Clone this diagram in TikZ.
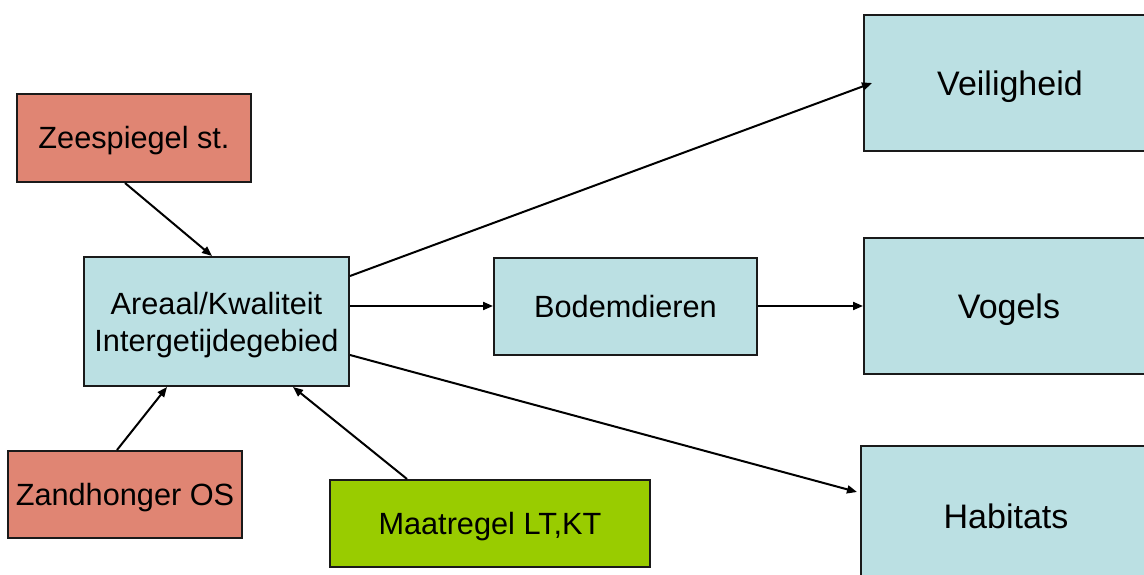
\documentclass[tikz,border=0pt]{standalone}
\usepackage{fontspec}
\setmainfont{Liberation Sans}
\usetikzlibrary{arrows.meta}
\definecolor{salmon}{HTML}{E08573}
\definecolor{lblue}{HTML}{BBE0E3}
\definecolor{lgreen}{HTML}{99CC00}
\definecolor{edge}{HTML}{1A1A1A}
\tikzset{
  box/.style={draw=edge, line width=2pt, inner sep=0pt, align=center,
    font=\fontsize{30.7}{37}\selectfont, text height=28.4pt, text depth=6.4pt},
  bigbox/.style={box, font=\fontsize{34}{40}\selectfont, text height=31.3pt, text depth=7.1pt},
  conn/.style={line width=2pt, draw=black, -{Triangle[length=10pt,width=8pt]}}
}
\begin{document}
\begin{tikzpicture}[x=1pt,y=-1pt]
\useasboundingbox (0,0) rectangle (1144,575);
\clip (0,0) rectangle (1144,575);
\node[box, fill=salmon, minimum width=234pt, minimum height=88pt] (zee) at (134,138) {Zeespiegel st.};
\node[box, fill=lblue, minimum width=265pt, minimum height=129pt, text height=65.4pt] (are) at (216.5,321.5) {Areaal/Kwaliteit\\Intergetijdegebied};
\node[box, fill=salmon, minimum width=234pt, minimum height=87pt] (zand) at (125,494.5) {Zandhonger OS};
\node[box, fill=lgreen, minimum width=320pt, minimum height=87pt] (maat) at (490,523.5) {Maatregel LT,KT};
\node[box, fill=lblue, minimum width=263pt, minimum height=97pt] (bod) at (625.5,306) {Bodemdieren};
\node[bigbox, fill=lblue, minimum width=292pt, minimum height=136pt] (veil) at (1010,83) {Veiligheid};
\node[bigbox, fill=lblue, minimum width=290pt, minimum height=136pt] (vog) at (1009,306) {Vogels};
\node[bigbox, fill=lblue, minimum width=290pt, minimum height=140pt] (hab) at (1006,516) {Habitats};

\draw[conn] ([xshift=-9pt]zee.south) -- ([xshift=-4.5pt]are.north);
\draw[conn] ([xshift=-8pt]zand.north) -- ([xshift=-49.5pt]are.south);
\draw[conn] ([xshift=-83pt]maat.north) -- ([xshift=76.5pt]are.south);
\draw[conn] ([yshift=45.5pt]are.east) -- ([xshift=9pt]veil.west);
\draw[conn] ([yshift=15.5pt]are.east) -- (bod.west);
\draw[conn] (bod.east) -- (vog.west);
\draw[conn] ([yshift=-33.5pt]are.east) -- ([xshift=-3pt,yshift=24pt]hab.west);
\end{tikzpicture}
\end{document}
